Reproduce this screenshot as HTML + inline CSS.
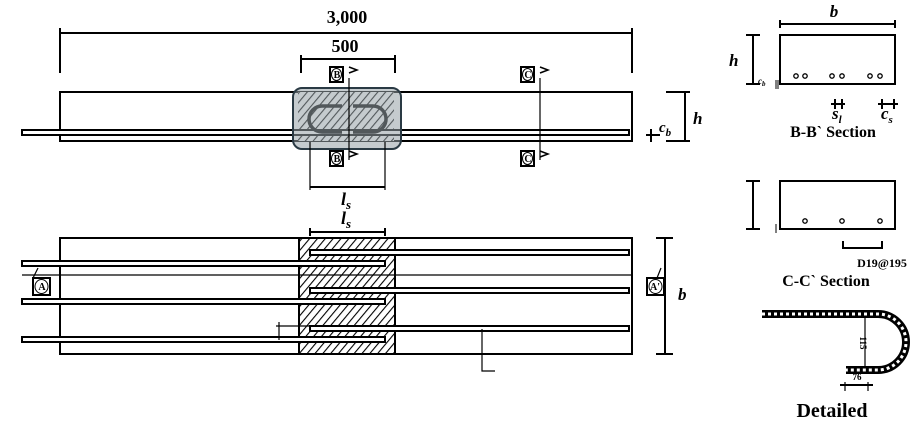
<!DOCTYPE html>
<html><head><meta charset="utf-8"><style>
html,body{margin:0;padding:0;background:#fff}
svg{display:block}
text{font-family:"Liberation Serif",serif;font-weight:bold;fill:#000}
</style></head><body>
<svg width="920" height="428" viewBox="0 0 920 428" xmlns="http://www.w3.org/2000/svg">
<defs>
<pattern id="h" width="6" height="6" patternUnits="userSpaceOnUse" patternTransform="rotate(40)">
<rect width="6" height="6" fill="#fff"/><line x1="0" y1="0" x2="0" y2="6" stroke="#000" stroke-width="2.2"/>
</pattern>
</defs>
<g stroke="#000" fill="none" stroke-width="2">
<line x1="60" y1="33" x2="632" y2="33"/><line x1="60" y1="28" x2="60" y2="73"/><line x1="632" y1="28" x2="632" y2="73"/>
<line x1="301" y1="59" x2="395" y2="59"/><line x1="301" y1="55" x2="301" y2="73"/><line x1="395" y1="55" x2="395" y2="73"/>
<rect x="60" y="92" width="572" height="49"/>
<rect x="298" y="92" width="96" height="49" fill="url(#h)" stroke="none"/>
<rect x="22" y="130" width="607" height="5" fill="#fff" stroke-width="2"/>
<path d="M342 106 h-20 a13 13 0 0 0 0 26 h20" stroke-width="3.5"/>
<path d="M353 106 h20 a13 13 0 0 1 0 26 h-20" stroke-width="3.5"/>
<rect x="293" y="88" width="108" height="61" rx="9" fill="rgba(150,160,165,0.55)" stroke="#2a3a44"/>
<line x1="349" y1="78" x2="349" y2="160" stroke-width="1.2"/>
<line x1="540" y1="78" x2="540" y2="160" stroke-width="1.2"/>
<line x1="310" y1="142" x2="310" y2="190" stroke-width="1.2"/><line x1="385" y1="142" x2="385" y2="190" stroke-width="1.2"/>
<line x1="310" y1="187" x2="385" y2="187"/>
<line x1="666" y1="92" x2="690" y2="92"/><line x1="685" y1="92" x2="685" y2="141"/><line x1="666" y1="141" x2="690" y2="141"/>
<line x1="646" y1="135" x2="660" y2="135"/><line x1="651" y1="129" x2="651" y2="142"/>
<line x1="310" y1="232" x2="385" y2="232"/><line x1="310" y1="228" x2="310" y2="236"/><line x1="385" y1="228" x2="385" y2="236"/>
<rect x="60" y="238" width="572" height="116"/>
<rect x="299" y="238" width="96" height="116" fill="url(#h)"/>
<line x1="22" y1="275" x2="632" y2="275" stroke-width="1.2"/>
<g fill="#fff" stroke-width="2">
<rect x="22" y="261" width="363" height="5"/><rect x="22" y="299" width="363" height="5"/><rect x="22" y="337" width="363" height="5"/>
<rect x="310" y="250" width="319" height="5"/><rect x="310" y="288" width="319" height="5"/><rect x="310" y="326" width="319" height="5"/>
</g>
<line x1="665" y1="238" x2="665" y2="354"/><line x1="656" y1="238" x2="673" y2="238"/><line x1="656" y1="354" x2="673" y2="354"/>
<line x1="276" y1="326" x2="310" y2="326" stroke-width="1.2"/><line x1="279" y1="322" x2="279" y2="340" stroke-width="1.2"/>
<path d="M482 329 V371 H495" stroke-width="1.2"/>
<path d="M38 268 L33 278 M661 268 L657 278" stroke-width="1.2"/>
<line x1="780" y1="24" x2="895" y2="24"/><line x1="780" y1="20" x2="780" y2="28"/><line x1="895" y1="20" x2="895" y2="28"/>
<rect x="780" y="35" width="115" height="49"/>
<line x1="753" y1="35" x2="753" y2="84"/><line x1="746" y1="35" x2="760" y2="35"/><line x1="746" y1="84" x2="760" y2="84"/>
<line x1="776" y1="80" x2="776" y2="89" stroke-width="1"/><line x1="778" y1="80" x2="778" y2="89" stroke-width="1"/>
<g stroke-width="1.3"><circle cx="796" cy="76" r="2.2"/><circle cx="805" cy="76" r="2.2"/><circle cx="832" cy="76" r="2.2"/><circle cx="842" cy="76" r="2.2"/><circle cx="870" cy="76" r="2.2"/><circle cx="880" cy="76" r="2.2"/></g>
<line x1="831" y1="104" x2="845" y2="104"/><line x1="835" y1="99" x2="835" y2="109"/><line x1="842" y1="99" x2="842" y2="109"/>
<line x1="878" y1="104" x2="898" y2="104"/><line x1="882" y1="99" x2="882" y2="109"/><line x1="894" y1="99" x2="894" y2="109"/>
<rect x="780" y="181" width="115" height="48"/>
<line x1="753" y1="181" x2="753" y2="229"/><line x1="746" y1="181" x2="760" y2="181"/><line x1="746" y1="229" x2="760" y2="229"/>
<line x1="776" y1="224" x2="776" y2="233" stroke-width="1"/>
<g stroke-width="1.3"><circle cx="805" cy="221" r="2.2"/><circle cx="842" cy="221" r="2.2"/><circle cx="880" cy="221" r="2.2"/></g>
<path d="M843 241 V248 H882 V241"/>
<path d="M762 314 H878 A28 28 0 0 1 878 370 H846" stroke-width="8" stroke="#000"/>
<path d="M762 314 H878 A28 28 0 0 1 878 370 H846" stroke-width="3" stroke="#fff" stroke-dasharray="3 3"/>
<line x1="865" y1="318" x2="865" y2="367" stroke-width="1.2"/>
<line x1="840" y1="385" x2="873" y2="385"/><line x1="845" y1="382" x2="845" y2="391" stroke-width="1.2"/><line x1="868" y1="382" x2="868" y2="391" stroke-width="1.2"/>
</g>
<g stroke="#000" stroke-width="2" fill="#fff">
<rect x="330" y="67" width="13" height="15"/><rect x="330" y="151" width="13" height="15"/>
<rect x="521" y="67" width="13" height="15"/><rect x="521" y="151" width="13" height="15"/>
<rect x="33" y="278" width="17" height="17"/><rect x="647" y="278" width="17" height="17"/>
</g>
<g stroke="#000" stroke-width="1" fill="none">
<ellipse cx="336.5" cy="74.5" rx="5" ry="6"/><ellipse cx="336.5" cy="158.5" rx="5" ry="6"/>
<ellipse cx="527.5" cy="74.5" rx="5" ry="6"/><ellipse cx="527.5" cy="158.5" rx="5" ry="6"/>
<ellipse cx="41.5" cy="286.5" rx="6.5" ry="7"/><ellipse cx="655.5" cy="286.5" rx="6.5" ry="7"/>
</g>
<g stroke="#000" stroke-width="1.5" fill="none">
<path d="M349 67 L357 70 L349 73"/><path d="M349 151 L357 154 L349 157"/>
<path d="M540 67 L548 70 L540 73"/><path d="M540 151 L548 154 L540 157"/>
</g>
<g font-size="10" text-anchor="middle">
<text x="337" y="78">B</text><text x="337" y="162">B</text>
<text x="528" y="78">C</text><text x="528" y="162">C</text>
<text x="42" y="290">A</text><text x="655" y="290">A'</text>
</g>
<text x="347" y="23" font-size="18" text-anchor="middle">3,000</text>
<text x="345" y="52" font-size="18" text-anchor="middle">500</text>
<text x="346" y="205" font-size="18" font-style="italic" text-anchor="middle">l<tspan font-size="13" dy="4">s</tspan></text>
<text x="346" y="224" font-size="18" font-style="italic" text-anchor="middle">l<tspan font-size="13" dy="4">s</tspan></text>
<text x="693" y="124" font-size="17" font-style="italic">h</text>
<text x="659" y="132" font-size="15" font-style="italic">c<tspan font-size="11" dy="4">b</tspan></text>
<text x="678" y="300" font-size="17" font-style="italic">b</text>
<text x="834" y="17" font-size="17" font-style="italic" text-anchor="middle">b</text>
<text x="729" y="66" font-size="17" font-style="italic">h</text>
<text x="758" y="84" font-size="9" font-style="italic">c<tspan font-size="7" dy="2">b</tspan></text>
<text x="832" y="119" font-size="17" font-style="italic">s<tspan font-size="11" dy="4">l</tspan></text>
<text x="881" y="119" font-size="17" font-style="italic">c<tspan font-size="11" dy="4">s</tspan></text>
<text x="833" y="137" font-size="16" text-anchor="middle">B-B` Section</text>
<text x="882" y="267" font-size="12" text-anchor="middle">D19@195</text>
<text x="826" y="286" font-size="16" text-anchor="middle">C-C` Section</text>
<text x="857" y="380" font-size="9" text-anchor="middle">76</text>
<text x="0" y="0" font-size="9" text-anchor="middle" transform="translate(860 343) rotate(90)">115</text>
<text x="832" y="417" font-size="20" text-anchor="middle">Detailed</text>
</svg>
</body></html>
